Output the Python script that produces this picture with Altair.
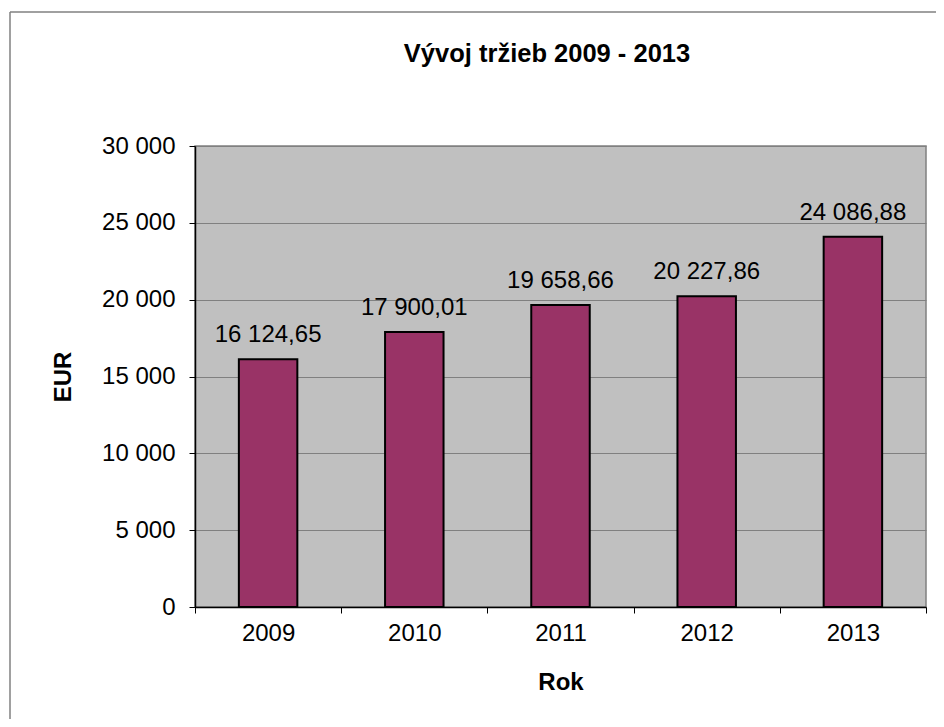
import altair as alt
import pandas as pd

years = ["2009", "2010", "2011", "2012", "2013"]
revenue = [16124.65, 17900.01, 19658.66, 20227.86, 24086.88]
y_ticks = [0, 5000, 10000, 15000, 20000, 25000, 30000]
chart_title = "Vývoj tržieb 2009 - 2013"

df = pd.DataFrame({"Rok": years, "EUR": revenue})
one = pd.DataFrame({"t": [chart_title]})

FONT = "Liberation Sans"

x_enc = alt.X(
    "Rok:N",
    sort=years,
    scale=alt.Scale(paddingInner=0, paddingOuter=0),
    axis=alt.Axis(
        title="Rok", labelAngle=0, tickBand="extent", grid=False,
        domainColor="black", domainWidth=1.5, tickColor="black", tickSize=6,
        labelFontSize=24, labelPadding=8, titleFontSize=24, titleFontWeight="bold",
        titlePadding=25, labelFont=FONT, titleFont=FONT, labelColor="black", titleColor="black",
    ),
)
y_enc = alt.Y(
    "EUR:Q",
    scale=alt.Scale(domain=[0, 30000], nice=False),
    axis=alt.Axis(
        title="EUR", values=y_ticks, format=",d", grid=True,
        gridColor="#808080", gridWidth=1,
        domainColor="black", domainWidth=1.5, tickColor="black", tickSize=6,
        labelFontSize=24, labelPadding=14, titleFontSize=24, titleFontWeight="bold",
        titlePadding=26, labelFont=FONT, titleFont=FONT, labelColor="black", titleColor="black",
    ),
)

bars = alt.Chart(df).mark_bar(
    color="#993366", stroke="black", strokeWidth=2,
    width=alt.RelativeBandSize(0.4),
).encode(x=x_enc, y=y_enc)

labels = alt.Chart(df).mark_text(
    dy=-17, baseline="alphabetic", fontSize=24, font=FONT, color="black"
).encode(
    x=alt.X("Rok:N", sort=years),
    y=alt.Y("EUR:Q"),
    text=alt.Text("EUR:Q", format=",.2f"),
)

title_text = alt.Chart(one).mark_text(
    baseline="alphabetic", align="center", fontSize=25.5, fontWeight="bold",
    font=FONT, color="black",
).encode(x=alt.value(352), y=alt.value(-84), text="t:N")

border_top = alt.Chart(one).mark_rule(color="#808080", strokeWidth=1.5).encode(
    x=alt.value(-185), x2=alt.value(800), y=alt.value(-134)
)
border_left = alt.Chart(one).mark_rule(color="#808080", strokeWidth=1.5).encode(
    x=alt.value(-185), y=alt.value(-134), y2=alt.value(650)
)

chart = alt.layer(bars, labels, title_text, border_top, border_left).properties(
    width=731,
    height=461,
    autosize=alt.AutoSizeParams(type="none"),
    padding={"left": 187, "top": 138, "right": 10, "bottom": 112},
    background="white",
).configure(
    locale={"number": {"decimal": ",", "thousands": " ", "grouping": [3], "currency": ["", " €"]}}
).configure_view(
    fill="#C0C0C0", stroke="#808080", strokeWidth=1.5
)

chart.save("out.html", embed_options={"renderer": "svg", "actions": False})
